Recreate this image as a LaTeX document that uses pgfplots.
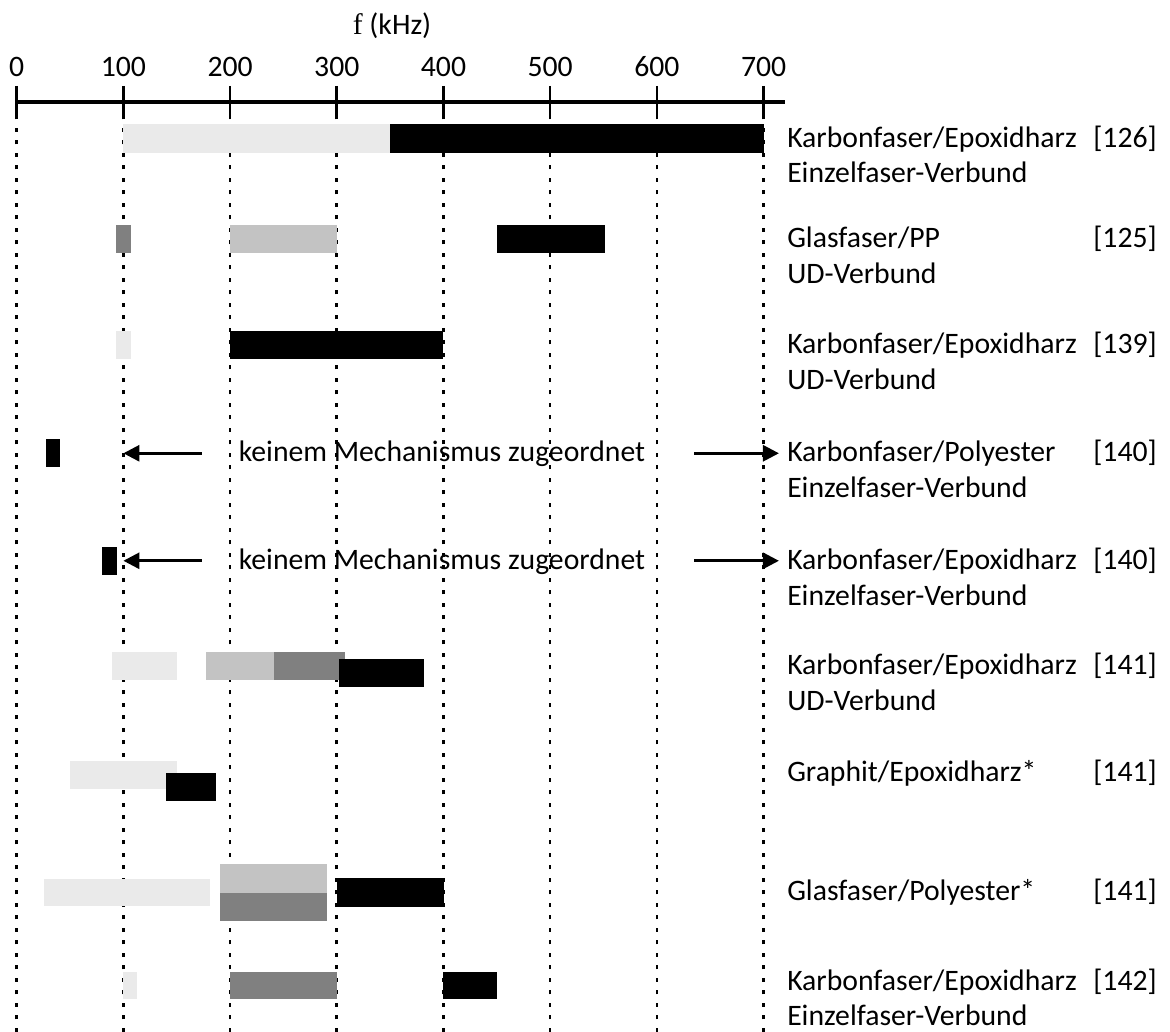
\documentclass[border=0pt]{standalone}
\usepackage{fontspec}
\setmainfont{Carlito}
\newfontfamily\seriff{Liberation Serif}
\usepackage{pgfplots}
\pgfplotsset{compat=1.18}
\usetikzlibrary{arrows.meta}
\definecolor{vl}{HTML}{EAEAEA}
\definecolor{lg}{HTML}{C3C3C3}
\definecolor{mg}{HTML}{808080}
\tikzset{lab/.style={anchor=base west, inner sep=0pt, font=\fontsize{14.85}{17}\selectfont}}
\begin{document}
\begin{tikzpicture}
\begin{axis}[
 scale only axis, width=384.12pt, height=465pt,
 xmin=0, xmax=720, ymin=-1032, ymax=-102,
 axis x line*=top, axis y line=none,
 xtick={0,100,...,700}, ytick=\empty,
 tick align=center, major tick length=16pt,
 x tick style={black, line width=1.3pt},
 x axis line style={black, line width=2pt},
 xmajorgrids, major grid style={black, line width=1.3pt, dash pattern=on 2pt off 4.25pt},
 xticklabel style={anchor=base, yshift=4.5pt, inner sep=0pt, font=\fontsize{14.85}{17}\selectfont},
 /pgf/number format/assume math mode=true,
 clip=false,
]
% row 1
\addplot[fill=vl, draw=none] coordinates {(100,-124) (350,-124) (350,-153) (100,-153)} -- cycle;
\addplot[fill=black, draw=none] coordinates {(350,-124) (700,-124) (700,-153) (350,-153)} -- cycle;
% row 2
\addplot[fill=mg, draw=none] coordinates {(93.5,-225) (107,-225) (107,-253.5) (93.5,-253.5)} -- cycle;
\addplot[fill=lg, draw=none] coordinates {(200,-225) (300,-225) (300,-253.5) (200,-253.5)} -- cycle;
\addplot[fill=black, draw=none] coordinates {(450.5,-225) (551,-225) (551,-253.5) (450.5,-253.5)} -- cycle;
% row 3
\addplot[fill=vl, draw=none] coordinates {(93.5,-331) (107,-331) (107,-359.5) (93.5,-359.5)} -- cycle;
\addplot[fill=black, draw=none] coordinates {(200,-331) (400,-331) (400,-359.5) (200,-359.5)} -- cycle;
% row 4
\addplot[fill=black, draw=none] coordinates {(27.2,-439.3) (40.3,-439.3) (40.3,-467.3) (27.2,-467.3)} -- cycle;
% row 5
\addplot[fill=black, draw=none] coordinates {(80.2,-546.7) (93.7,-546.7) (93.7,-575) (80.2,-575)} -- cycle;
% row 6
\addplot[fill=vl, draw=none] coordinates {(89.6,-651.7) (150.2,-651.7) (150.2,-680) (89.6,-680)} -- cycle;
\addplot[fill=lg, draw=none] coordinates {(177.1,-651.7) (241.2,-651.7) (241.2,-680) (177.1,-680)} -- cycle;
\addplot[fill=mg, draw=none] coordinates {(241.2,-651.7) (307.7,-651.7) (307.7,-680) (241.2,-680)} -- cycle;
\addplot[fill=black, draw=none] coordinates {(302.1,-659) (381.4,-659) (381.4,-686.7) (302.1,-686.7)} -- cycle;
% row 7
\addplot[fill=vl, draw=none] coordinates {(50,-760.7) (150.2,-760.7) (150.2,-789) (50,-789)} -- cycle;
\addplot[fill=black, draw=none] coordinates {(140,-772.7) (186.5,-772.7) (186.5,-801) (140,-801)} -- cycle;
% row 8
\addplot[fill=vl, draw=none] coordinates {(25.9,-879) (181.2,-879) (181.2,-906) (25.9,-906)} -- cycle;
\addplot[fill=lg, draw=none] coordinates {(190.6,-864.3) (290.6,-864.3) (290.6,-892.7) (190.6,-892.7)} -- cycle;
\addplot[fill=mg, draw=none] coordinates {(190.6,-892.7) (290.6,-892.7) (290.6,-920.7) (190.6,-920.7)} -- cycle;
\addplot[fill=black, draw=none] coordinates {(300,-878.3) (400.5,-878.3) (400.5,-906.7) (300,-906.7)} -- cycle;
% row 9
\addplot[fill=vl, draw=none] coordinates {(100,-971.7) (113.1,-971.7) (113.1,-999) (100,-999)} -- cycle;
\addplot[fill=mg, draw=none] coordinates {(200,-971.7) (300,-971.7) (300,-999) (200,-999)} -- cycle;
\addplot[fill=black, draw=none] coordinates {(400,-971.7) (450,-971.7) (450,-999) (400,-999)} -- cycle;
% arrows
\addplot[black, line width=1.4pt, -{Triangle[length=8pt,width=8pt]}] coordinates {(173.4,-453.3) (100,-453.3)};
\addplot[black, line width=1.4pt, -{Triangle[length=8pt,width=8pt]}] coordinates {(635,-453.3) (714.4,-453.3)};
\addplot[black, line width=1.4pt, -{Triangle[length=8pt,width=8pt]}] coordinates {(173.4,-560.8) (100,-560.8)};
\addplot[black, line width=1.4pt, -{Triangle[length=8pt,width=8pt]}] coordinates {(635,-560.8) (714.4,-560.8)};
\node[anchor=base, inner sep=0pt, font=\fontsize{14.85}{17}\selectfont] at (398.6,-462) {keinem Mechanismus zugeordnet};
\node[anchor=base, inner sep=0pt, font=\fontsize{14.85}{17}\selectfont] at (398.6,-569.5) {keinem Mechanismus zugeordnet};
% title
\node[anchor=base, inner sep=0pt, font=\fontsize{14.85}{17}\selectfont] at (351.8,-34.3) {{\seriff f} (kHz)};
% labels
\node[lab] at (721.8,-147.2) {Karbonfaser/Epoxidharz};
\node[lab] at (721.8,-182.8) {Einzelfaser-Verbund};
\node[lab] at (1008.7,-147.2) {[126]};
\node[lab] at (721.8,-247.9) {Glasfaser/PP};
\node[lab] at (721.8,-283.5) {UD-Verbund};
\node[lab] at (1008.7,-247.9) {[125]};
\node[lab] at (721.8,-353.9) {Karbonfaser/Epoxidharz};
\node[lab] at (721.8,-389.5) {UD-Verbund};
\node[lab] at (1008.7,-353.9) {[139]};
\node[lab] at (721.8,-462) {Karbonfaser/Polyester};
\node[lab] at (721.8,-497.6) {Einzelfaser-Verbund};
\node[lab] at (1008.7,-462) {[140]};
\node[lab] at (721.8,-569.5) {Karbonfaser/Epoxidharz};
\node[lab] at (721.8,-605.1) {Einzelfaser-Verbund};
\node[lab] at (1008.7,-569.5) {[140]};
\node[lab] at (721.8,-674.7) {Karbonfaser/Epoxidharz};
\node[lab] at (721.8,-710.3) {UD-Verbund};
\node[lab] at (1008.7,-674.7) {[141]};
\node[lab] at (721.8,-782) {Graphit/Epoxidharz*};
\node[lab] at (1008.7,-782) {[141]};
\node[lab] at (721.8,-901) {Glasfaser/Polyester*};
\node[lab] at (1008.7,-901) {[141]};
\node[lab] at (721.8,-991) {Karbonfaser/Epoxidharz};
\node[lab] at (721.8,-1025.5) {Einzelfaser-Verbund};
\node[lab] at (1008.7,-991) {[142]};
\coordinate (BL) at (-15.65,-1032);
\coordinate (TR) at (1080.9,0);
\end{axis}
\pgfresetboundingbox
\useasboundingbox (BL) rectangle (TR);
\end{tikzpicture}
\end{document}
